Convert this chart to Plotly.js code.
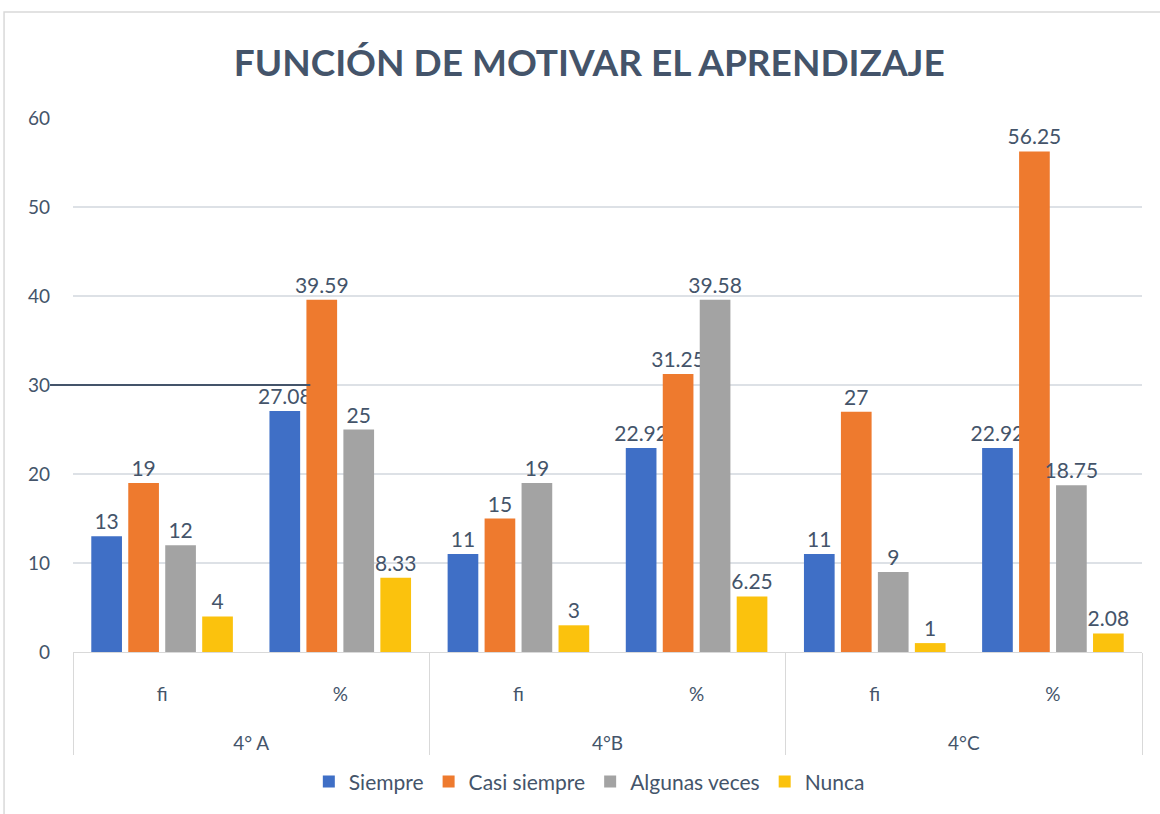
<!DOCTYPE html>
<html>
<head>
<meta charset="utf-8">
<script src="https://cdn.plot.ly/plotly-3.0.1.min.js"></script>
<style>html,body{margin:0;padding:0;background:#fff}#chart{width:1160px;height:814px}</style>
</head>
<body>
<div id="chart"></div>
<script>
// Data
const groups = ["4° A", "4° A", "4°B", "4°B", "4°C", "4°C"];
const measures = ["fi", "%", "fi", "%", "fi", "%"];
const siempre = [13, 27.08, 11, 22.92, 11, 22.92];
const casiSiempre = [19, 39.59, 15, 31.25, 27, 56.25];
const algunasVeces = [12, 25, 19, 39.58, 9, 18.75];
const nunca = [4, 8.33, 3, 6.25, 1, 2.08];
const seriesNames = ["Siempre", "Casi siempre", "Algunas veces", "Nunca"];

const colors = ["#3f6fc6", "#ee7a2e", "#a3a3a3", "#fbc20d"];
const textColor = "#44546a";
const fontFam = "Lato, 'Open Sans', sans-serif";

// extra leading lines push the category labels down like the original
const groupLabels = groups.map(g => "<br><br>" + g);
const measureLabels = measures.map(m => "<br>" + m);

const seriesVals = [siempre, casiSiempre, algunasVeces, nunca];
const traces = seriesVals.map((vals, i) => ({
  type: "bar",
  name: seriesNames[i],
  x: [groupLabels, measureLabels],
  y: vals,
  text: vals.map(v => String(v)),
  textposition: "outside",
  constraintext: "none",
  textfont: {family: fontFam, size: 21, color: textColor},
  cliponaxis: false,
  marker: {color: colors[i]},
  hoverinfo: "y+name"
}));

const layout = {
  width: 1160,
  height: 814,
  margin: {l: 73, r: 18, t: 118, b: 162, autoexpand: false},
  paper_bgcolor: "#ffffff",
  plot_bgcolor: "#ffffff",
  font: {family: fontFam, size: 18, color: textColor},
  title: {
    text: "<b>FUNCIÓN DE MOTIVAR EL APRENDIZAJE</b>",
    font: {family: fontFam, size: 37, color: textColor},
    x: 0.508, xanchor: "center",
    y: 0.923, yanchor: "middle"
  },
  barmode: "group",
  bargap: 0.17,
  bargroupgap: 0.17,
  xaxis: {
    type: "multicategory",
    automargin: false,
    showline: true,
    linecolor: "#d9d9d9",
    linewidth: 1,
    showgrid: false,
    showdividers: true,
    dividercolor: "#d9d9d9",
    dividerwidth: 1,
    tickfont: {family: fontFam, size: 19, color: textColor},
    ticks: ""
  },
  yaxis: {
    range: [0, 60],
    dtick: 10,
    automargin: false,
    showgrid: true,
    gridcolor: "#dde1e6",
    gridwidth: 1.5,
    zeroline: false,
    showline: false,
    ticklabelstandoff: 22,
    tickfont: {family: fontFam, size: 19, color: textColor}
  },
  legend: {
    orientation: "h",
    x: 0.483, xanchor: "center",
    y: -0.243, yanchor: "middle",
    font: {family: fontFam, size: 21, color: textColor},
    itemwidth: 30,
    traceorder: "normal"
  },
  shapes: [
    {type: "rect", xref: "paper", yref: "paper", x0: -0.0645, x1: 1.1, y0: -0.5, y1: 1.1985,
     line: {color: "#d9d9d9", width: 1.5}, fillcolor: "rgba(0,0,0,0)", layer: "below"},
    {type: "line", xref: "paper", yref: "y", x0: -0.0215, x1: 0.222, y0: 30, y1: 30,
     line: {color: "#44546a", width: 2}}
  ]
};

Plotly.newPlot("chart", traces, layout, {displayModeBar: false, staticPlot: true});
</script>
</body>
</html>
